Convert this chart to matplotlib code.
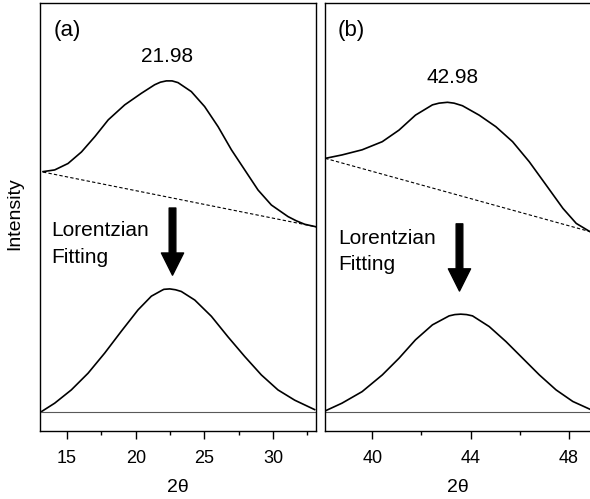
import matplotlib
matplotlib.use("Agg")
import matplotlib.pyplot as plt
from matplotlib.ticker import MultipleLocator

plt.rcParams['font.family'] = ['Liberation Sans', 'DejaVu Sans']

# panel (a): measured XRD profile around 22 deg
a_raw_x = [13.25, 14.10, 15.07, 16.05, 17.03, 18.00, 19.20, 20.41, 21.38, 21.80, 22.23,
           22.65, 23.08, 24.05, 25.02, 26.00, 26.97, 27.94, 28.91, 29.88, 31.09, 31.70,
           32.31, 33.15]
a_raw_y = [60.6, 61.0, 62.5, 65.2, 68.8, 72.7, 76.2, 78.9, 80.9, 81.5, 81.8,
           81.8, 81.4, 79.3, 75.8, 71.1, 65.7, 61.0, 56.3, 52.8, 50.1, 49.1,
           48.3, 47.7]
a_bg_x = [13.25, 33.15]
a_bg_y = [60.5, 47.7]
a_fit_x = [13.12, 14.10, 15.31, 16.53, 17.74, 18.95, 20.17, 21.14, 21.87, 22.05, 22.48,
           22.90, 23.32, 24.30, 25.51, 26.72, 27.94, 29.15, 30.36, 31.58, 33.03]
a_fit_y = [4.5, 6.5, 9.6, 13.5, 18.2, 23.3, 28.3, 31.5, 32.8, 33.1, 33.2,
           33.0, 32.6, 30.6, 26.8, 22.0, 17.4, 13.1, 9.6, 7.2, 5.0]

# panel (b): measured XRD profile around 43 deg
b_raw_x = [38.09, 38.77, 39.59, 40.41, 41.09, 41.76, 42.45, 42.72, 43.06, 43.33, 43.67,
           44.35, 45.03, 45.71, 46.39, 47.07, 47.76, 48.30, 48.85]
b_raw_y = [63.7, 64.5, 65.7, 67.6, 70.3, 73.8, 76.2, 76.6, 76.8, 76.6, 76.0,
           73.8, 71.1, 67.6, 62.9, 57.5, 52.0, 48.5, 46.6]
b_bg_x = [38.09, 48.85]
b_bg_y = [63.7, 46.6]
b_fit_x = [38.09, 38.77, 39.59, 40.41, 41.09, 41.76, 42.45, 43.13, 43.36, 43.60, 43.84,
           44.08, 44.76, 45.44, 46.12, 46.80, 47.48, 48.16, 48.85]
b_fit_y = [4.7, 6.5, 9.2, 13.1, 17.0, 21.3, 24.8, 26.9, 27.2, 27.3, 27.2,
           26.9, 24.4, 20.9, 17.0, 13.1, 9.6, 6.9, 5.1]

zero_level = 4.5
peak_labels = ["21.98", "42.98"]

fig = plt.figure(figsize=(5.9, 4.99), dpi=100)
ax1 = fig.add_axes([40 / 590, 68 / 499, 276 / 590, 428 / 499])
ax2 = fig.add_axes([325 / 590, 68 / 499, 266 / 590, 428 / 499])

panels = [
    (ax1, a_raw_x, a_raw_y, a_bg_x, a_bg_y, a_fit_x, a_fit_y, (13.03, 33.13),
     "(a)", peak_labels[0], (22.3, 87.6), (22.68, 52.1), (22.68, 36.4),
     (13.85, 45.5), 5, 2.5),
    (ax2, b_raw_x, b_raw_y, b_bg_x, b_bg_y, b_fit_x, b_fit_y, (38.08, 48.9),
     "(b)", peak_labels[1], (43.28, 82.7), (43.55, 48.4), (43.55, 32.7),
     (38.6, 43.8), 4, 2),
]

for (ax, rx, ry, bx, by, fx, fy, xlim, tag, plabel, ppos, a_top, a_tip,
     lpos, major, minor) in panels:
    ax.plot(rx, ry, color='black', lw=1.2, solid_joinstyle='round')
    ax.plot(bx, by, color='black', lw=0.8, ls=(0, (3, 2)))
    ax.plot(fx, fy, color='black', lw=1.2, solid_joinstyle='round')
    ax.axhline(zero_level, color='0.35', lw=0.8)
    ax.set_xlim(*xlim)
    ax.set_ylim(0, 100)
    ax.set_yticks([])
    ax.xaxis.set_major_locator(MultipleLocator(major))
    ax.xaxis.set_minor_locator(MultipleLocator(minor))
    ax.tick_params(axis='x', which='major', direction='out', length=6,
                   width=1, labelsize=13, pad=8)
    ax.tick_params(axis='x', which='minor', direction='out', length=3, width=1)
    for s in ax.spines.values():
        s.set_linewidth(1.0)
    ax.set_xlabel("2θ", fontsize=14, labelpad=8)
    ax.text(0.048, 0.935, tag, transform=ax.transAxes, fontsize=16,
            va='center', ha='left')
    ax.text(ppos[0], ppos[1], plabel, fontsize=15, ha='center', va='center')
    ax.text(lpos[0], lpos[1], "Lorentzian", fontsize=15, ha='left',
            va='baseline')
    ax.text(lpos[0], lpos[1] - 6.3, "Fitting", fontsize=15, ha='left',
            va='baseline')
    ax.annotate("", xy=a_tip, xytext=a_top,
                arrowprops=dict(arrowstyle="simple,head_length=1.0,head_width=1.0,tail_width=0.3",
                                color='black', mutation_scale=16,
                                shrinkA=0, shrinkB=0))

ax2.spines['right'].set_visible(False)

fig.text(15 / 590, 1 - 214 / 499, "Intensity", rotation=90, fontsize=14,
         ha='center', va='center')

fig.savefig("out.png", dpi=100)
